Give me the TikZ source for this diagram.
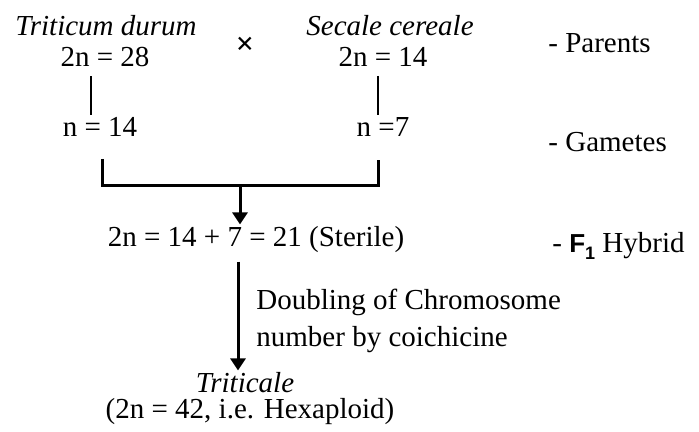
\documentclass[tikz,border=0pt]{standalone}
\usepackage{fontspec}
\setmainfont{Liberation Serif}
\newfontfamily\labelsans{Liberation Sans}
\usetikzlibrary{arrows.meta,positioning,calc}

\begin{document}
\begin{tikzpicture}[
    x=0.5pt, y=-0.5pt,
    txt/.style={inner sep=1pt, font=\fontsize{14.5}{17}\selectfont},
    species/.style={txt, font=\fontsize{14.5}{17}\selectfont\itshape},
    tag/.style={txt, anchor=west},
    link/.style={line width=0.9pt},
    flow/.style={line width=1.5pt, -{Triangle[length=6pt,width=7.5pt]}}
  ]
  \useasboundingbox (0,0) rectangle (699,432);

  % Parents
  \node[species] (td)    at (106,26)  {Triticum durum};
  \node[txt]     (tdchr) at (105,57)  {2n = 28};
  \node[species] (sc)    at (390,26)  {Secale cereale};
  \node[txt]     (scchr) at (383,57)  {2n = 14};
  \node[txt]     (xmark) at (245,46)  {\bfseries\fontsize{16}{16}\selectfont ×};

  % Gametes
  \node[txt] (tdgam) at (100,127) {n = 14};
  \node[txt] (scgam) at (383,127) {n =7};

  % Hybrid and triticale
  \node[txt] (hyb)  at (256,240) {2n = 14 + 7 = 21 (Sterile)};
  \node[species] (tcl) at (245,383) {Triticale};
  \node[txt] (tclchr) at (250,412) {(2n = 42, i.e. Hexaploid)};
  \node[txt, anchor=west, align=left, font=\fontsize{14.5}{18.5}\selectfont] (dbl) at (254,321)
    {Doubling of Chromosome\\number by coichicine};

  % Side labels
  \node[tag] (lpar) at (546,43)  {- Parents};
  \node[tag] (lgam) at (546,142) {- Gametes};
  \node[tag] (lhyb) at (550,246)
    {- {\labelsans\bfseries\fontsize{13}{12}\selectfont F\raisebox{-0.45ex}{\fontsize{9}{8}\selectfont 1}} Hybrid};

  % Links
  \coordinate (tdx) at (91,0);
  \coordinate (scx) at (378,0);
  \coordinate (mid) at (240,186);
  \coordinate (dwn) at (238,0);
  \draw[link] (tdx |- tdchr.south) ++(0,7) -- (tdx |- tdgam.north);
  \draw[link] (scx |- scchr.south) ++(0,7) -- (scx |- scgam.north);
  \draw[line width=1.5pt] (102,0 |- tdgam.south) ++(0,20) -- (102,186) -- (378,186)
    -- (378,160);
  \draw[flow] (mid) -- (mid |- hyb.north);
  \draw[flow] (dwn |- hyb.south) ++(0,6) -- (dwn |- tcl.north);

\end{tikzpicture}
\end{document}
